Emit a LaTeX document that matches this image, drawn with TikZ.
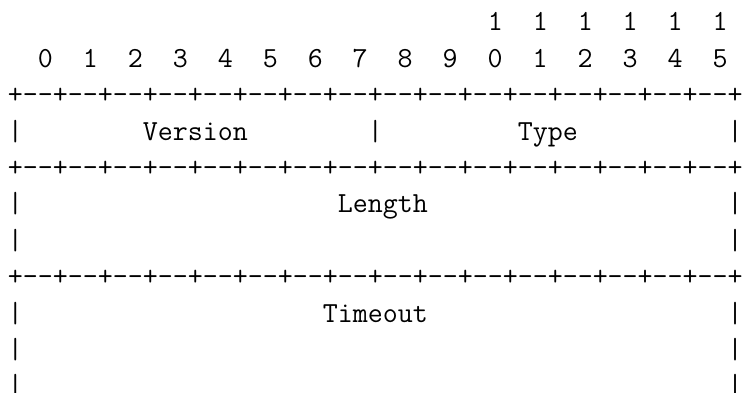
\documentclass[tikz,border=0pt]{standalone}
\usetikzlibrary{positioning}

% fixed-pitch helpers: \pad{n} skips n columns, \ruler is the +--+ border
\newcommand{\pad}[1]{\hskip#1\fontcharwd\font`0\relax}
\newcommand{\seg}{-\kern0pt-+}
\newcommand{\ruler}{+\seg\seg\seg\seg\seg\seg\seg\seg\seg\seg\seg\seg\seg\seg\seg\seg}

\tikzset{
	row/.style={inner sep=0pt, text height=12.3pt, text depth=5.5pt, anchor=north west,
		font=\fontsize{14.56pt}{17.8pt}\selectfont\ttfamily},
}

\begin{document}
\begin{tikzpicture}
	\useasboundingbox (0,0) rectangle (372.5pt,-196pt);

	% bit numbers
	\node (tens) [row] at (3.74pt,-2.95pt) {\pad{32}1\pad{2}1\pad{2}1\pad{2}1\pad{2}1\pad{2}1};
	\node (ones) [row, below right=0pt of tens.south west] {\pad{2}0\pad{2}1\pad{2}2\pad{2}3\pad{2}4\pad{2}5\pad{2}6\pad{2}7\pad{2}8\pad{2}9\pad{2}0\pad{2}1\pad{2}2\pad{2}3\pad{2}4\pad{2}5};

	% header words
	\node (top) [row, below right=0pt of ones.south west] {\ruler};
	\node (version) [row, below right=0pt of top.south west] {|\pad{8}Version\pad{8}|\pad{9}Type\pad{10}|};
	\node (sep1) [row, below right=0pt of version.south west] {\ruler};
	\node (length) [row, below right=0pt of sep1.south west] {|\pad{21}Length\pad{20}|};
	\node (length2) [row, below right=0pt of length.south west] {|\pad{47}|};
	\node (sep2) [row, below right=0pt of length2.south west] {\ruler};
	\node (timeout) [row, below right=0pt of sep2.south west] {|\pad{20}Timeout\pad{20}|};
	\node (timeout2) [row, below right=0pt of timeout.south west] {|\pad{47}|};
	\node (timeout3) [row, below right=0pt of timeout2.south west] {|\pad{47}|};
\end{tikzpicture}
\end{document}
